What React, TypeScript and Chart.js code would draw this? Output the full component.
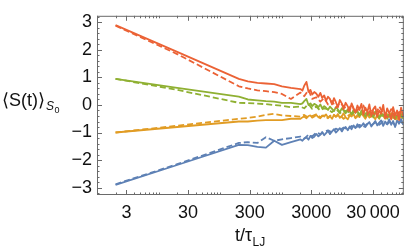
import React, { useEffect, useRef } from "react";
import { Chart, registerables } from "chart.js";

Chart.register(...registerables);

// ---------- data ----------
const T_SMOOTH = [2, 20, 200, 280, 400, 550, 750, 1000, 1400];
const T_NOISE = [2000, 2150, 2300, 2500, 2700, 2900, 3100, 3350, 3600, 3900, 4200, 4500, 4850, 5200, 5600, 6000, 6500, 7000, 7500, 8100, 8700, 9400, 10000, 10800, 11700, 12600, 13500, 14500, 15600, 16800, 18100, 19500, 21000, 22600, 24300, 26200, 28200, 30400, 32700, 35200, 37900, 40800, 44000, 47300, 51000, 55000, 59200, 63700, 68600, 73900, 79600, 85700, 92300];
const T_NOISE_DASHED = [2000, 2300, 2700, 3100, 3600, 4200, 4850, 5600, 6500, 7500, 8700, 10000, 11700, 13500, 15600, 18100, 21000, 24300, 28200, 32700, 37900, 44000, 51000, 59200, 68600, 79600, 92300];

// red
const RED_SOLID_SMOOTH = [2.9, 1.93, 0.95, 0.86, 0.8, 0.78, 0.76, 0.68, 0.62];
const RED_SOLID_NOISE = [0.58, 0.52, 0.7, 0.84, 0.48, 0.55, 0.38, 0.47, 0.42, 0.3, 0.44, 0.26, 0.35, 0.15, 0.3, 0.22, 0.02, 0.25, 0.1, -0.08, 0.18, 0.05, -0.15, 0.08, -0.05, -0.22, 0.06, -0.12, -0.28, -0.02, -0.18, 0.04, -0.35, -0.1, -0.25, 0.02, -0.4, -0.15, -0.05, -0.42, -0.2, -0.32, 0.0, -0.48, -0.12, -0.3, -0.52, -0.08, -0.38, -0.2, -0.55, -0.1, -0.4];
const RED_DASHED_SMOOTH = [2.88, 1.85, 0.68, 0.6, 0.53, 0.5, 0.47, 0.4, 0.22];
const RED_DASHED_NOISE = [0.45, 0.32, 0.55, 0.22, 0.28, 0.12, 0.25, 0.02, 0.15, -0.1, 0.08, -0.04, -0.2, 0.02, -0.28, -0.1, -0.02, -0.35, -0.15, -0.4, -0.05, -0.3, -0.45, -0.15, -0.5, -0.25, -0.35];

// green
const GREEN_SOLID_SMOOTH = [0.95, 0.62, 0.3, 0.2, 0.17, 0.14, 0.12, 0.08, 0.08];
const GREEN_SOLID_NOISE = [0.03, 0.06, 0.14, 0.22, 0.0, 0.06, -0.04, 0.04, 0.0, -0.08, 0.02, -0.12, -0.04, -0.1, -0.18, -0.06, -0.14, -0.22, -0.08, -0.16, -0.26, -0.12, -0.2, -0.3, -0.15, -0.24, -0.34, -0.18, -0.28, -0.22, -0.38, -0.2, -0.3, -0.42, -0.25, -0.35, -0.28, -0.45, -0.24, -0.38, -0.48, -0.3, -0.4, -0.28, -0.5, -0.34, -0.42, -0.3, -0.52, -0.36, -0.44, -0.32, -0.5];
const GREEN_DASHED_SMOOTH = [0.95, 0.55, 0.08, 0.07, 0.05, 0.03, 0.0, -0.03, -0.08];
const GREEN_DASHED_NOISE = [-0.06, -0.12, 0.04, -0.14, -0.06, -0.2, -0.12, -0.16, -0.26, -0.14, -0.3, -0.2, -0.24, -0.34, -0.2, -0.38, -0.28, -0.32, -0.42, -0.26, -0.45, -0.34, -0.4, -0.3, -0.5, -0.36, -0.42];

// orange
const ORANGE_SOLID_SMOOTH = [-1.0, -0.8, -0.6, -0.6, -0.57, -0.55, -0.55, -0.55, -0.5];
const ORANGE_SOLID_NOISE = [-0.5, -0.45, -0.42, -0.48, -0.4, -0.38, -0.46, -0.42, -0.36, -0.44, -0.48, -0.38, -0.42, -0.34, -0.46, -0.4, -0.5, -0.36, -0.43, -0.33, -0.47, -0.4, -0.3, -0.45, -0.52, -0.38, -0.42, -0.32, -0.48, -0.36, -0.44, -0.28, -0.4, -0.5, -0.34, -0.46, -0.3, -0.42, -0.52, -0.35, -0.45, -0.28, -0.4, -0.5, -0.33, -0.44, -0.3, -0.48, -0.36, -0.52, -0.32, -0.45, -0.38];
const ORANGE_DASHED_SMOOTH = [-1.0, -0.75, -0.5, -0.47, -0.42, -0.36, -0.32, -0.38, -0.4];
const ORANGE_DASHED_NOISE = [-0.42, -0.36, -0.46, -0.4, -0.34, -0.44, -0.38, -0.48, -0.32, -0.42, -0.36, -0.5, -0.4, -0.3, -0.46, -0.38, -0.34, -0.48, -0.42, -0.3, -0.5, -0.36, -0.44, -0.32, -0.48, -0.38, -0.42];

// blue
const BLUE_SOLID_SMOOTH = [-2.9, -2.18, -1.45, -1.46, -1.52, -1.55, -1.3, -1.45, -1.35];
const BLUE_SOLID_NOISE = [-1.25, -1.3, -1.22, -1.18, -1.26, -1.12, -1.2, -1.15, -1.05, -1.14, -1.08, -0.98, -1.1, -1.02, -0.94, -1.06, -0.96, -0.88, -1.0, -0.92, -0.84, -0.96, -0.86, -0.8, -0.92, -0.78, -0.88, -0.74, -0.84, -0.7, -0.82, -0.76, -0.66, -0.8, -0.7, -0.62, -0.78, -0.68, -0.58, -0.74, -0.64, -0.56, -0.76, -0.6, -0.7, -0.52, -0.72, -0.58, -0.8, -0.55, -0.68, -0.5, -0.72];
const BLUE_DASHED_SMOOTH = [-2.88, -2.15, -1.38, -1.35, -1.38, -1.17, -1.3, -1.25, -1.2];
const BLUE_DASHED_NOISE = [-1.15, -1.22, -1.08, -1.14, -1.0, -1.06, -0.98, -0.92, -1.0, -0.86, -0.92, -0.82, -0.88, -0.76, -0.84, -0.72, -0.8, -0.68, -0.74, -0.64, -0.72, -0.6, -0.7, -0.56, -0.74, -0.6, -0.66];

const X_TICKS = [3, 30, 300, 3000, 30000];
const X_TICK_LABELS = ["3", "30", "300", "3000", "30\u2009000"];
const Y_TICKS = [-3, -2, -1, 0, 1, 2, 3];
const Y_TICK_LABELS = ["\u22123", "\u22122", "\u22121", "0", "1", "2", "3"];

const COLORS = {
  red: "#EB6235",
  green: "#8FB032",
  orange: "#E19C24",
  blue: "#5E81B5",
};

const FONT = "'Liberation Sans', Arial, sans-serif";

function pts(ts: number[], ys: number[]) {
  return ts.map((t, i) => ({ x: t, y: ys[i] }));
}

function makeSet(color: string, smooth: number[], noise: number[], dashed: boolean) {
  const t = [...T_SMOOTH, ...(dashed ? T_NOISE_DASHED : T_NOISE)];
  return {
    data: pts(t, [...smooth, ...noise]),
    borderColor: color,
    borderWidth: 1.8,
    borderDash: dashed ? [6, 3] : [],
    borderJoinStyle: "round",
    pointRadius: 0,
    tension: 0,
    fill: false,
  };
}

const framePlugin = {
  id: "frameTicks",
  afterDatasetsDraw(chart: any) {
    const { ctx, chartArea: a, scales } = chart;
    const x = scales.x;
    const y = scales.y;
    ctx.save();
    ctx.strokeStyle = "#6a6a6a";
    ctx.lineWidth = 1;
    ctx.strokeRect(a.left + 0.5, a.top + 0.5, a.right - a.left - 1, a.bottom - a.top - 1);
    ctx.beginPath();
    for (let k = 0; k <= 5; k++) {
      for (let m = 1; m <= 9; m++) {
        const v = m * Math.pow(10, k);
        if (v < x.min || v > x.max) continue;
        const major = X_TICKS.includes(v);
        const len = major ? 5 : 2.5;
        const px = Math.round(x.getPixelForValue(v)) + 0.5;
        ctx.moveTo(px, a.bottom);
        ctx.lineTo(px, a.bottom - len);
        ctx.moveTo(px, a.top);
        ctx.lineTo(px, a.top + len);
      }
    }
    for (let i = -16; i <= 16; i++) {
      const v = i / 5;
      if (v < y.min || v > y.max) continue;
      const major = i % 5 === 0;
      const len = major ? 5 : 2.5;
      const py = Math.round(y.getPixelForValue(v)) + 0.5;
      ctx.moveTo(a.left, py);
      ctx.lineTo(a.left + len, py);
      ctx.moveTo(a.right, py);
      ctx.lineTo(a.right - len, py);
    }
    ctx.stroke();
    ctx.restore();
  },
  afterDraw(chart: any) {
    const { ctx } = chart;
    ctx.save();
    ctx.fillStyle = "#111";
    ctx.textBaseline = "alphabetic";
    ctx.textAlign = "left";
    ctx.font = `18px ${FONT}`;
    const main = "\u27E8S(t)\u27E9";
    ctx.fillText(main, 2, 106);
    const w = ctx.measureText(main).width;
    ctx.font = `italic 12px ${FONT}`;
    ctx.fillText("S", 2 + w + 1, 110);
    const ws = ctx.measureText("S").width;
    ctx.font = `9px ${FONT}`;
    ctx.fillText("0", 2 + w + 1 + ws + 0.5, 113);
    ctx.font = `18px ${FONT}`;
    const xt = "t/\u03C4";
    ctx.fillText(xt, 235, 241);
    const wx = ctx.measureText(xt).width;
    ctx.font = `12px ${FONT}`;
    ctx.fillText("LJ", 235 + wx + 0.5, 246);
    ctx.restore();
  },
};

export default function App() {
  const ref = useRef<HTMLCanvasElement>(null);
  useEffect(() => {
    document.body.style.margin = "0";
    const chart = new Chart(ref.current as HTMLCanvasElement, {
      type: "line",
      data: {
        datasets: [
          makeSet(COLORS.red, RED_SOLID_SMOOTH, RED_SOLID_NOISE, false),
          makeSet(COLORS.red, RED_DASHED_SMOOTH, RED_DASHED_NOISE, true),
          makeSet(COLORS.green, GREEN_SOLID_SMOOTH, GREEN_SOLID_NOISE, false),
          makeSet(COLORS.green, GREEN_DASHED_SMOOTH, GREEN_DASHED_NOISE, true),
          makeSet(COLORS.orange, ORANGE_SOLID_SMOOTH, ORANGE_SOLID_NOISE, false),
          makeSet(COLORS.orange, ORANGE_DASHED_SMOOTH, ORANGE_DASHED_NOISE, true),
          makeSet(COLORS.blue, BLUE_SOLID_SMOOTH, BLUE_SOLID_NOISE, false),
          makeSet(COLORS.blue, BLUE_DASHED_SMOOTH, BLUE_DASHED_NOISE, true),
        ] as any,
      },
      options: {
        animation: false,
        responsive: false,
        parsing: false as any,
        layout: { padding: { left: 0, right: 2, top: 4, bottom: 0 } },
        plugins: { legend: { display: false }, tooltip: { enabled: false } },
        scales: {
          x: {
            type: "logarithmic",
            min: 1,
            max: 95000,
            grid: { display: false, drawTicks: false },
            border: { display: false },
            afterBuildTicks: (s: any) => {
              s.ticks = X_TICKS.map((v) => ({ value: v }));
            },
            afterFit: (s: any) => {
              s.height = 54;
            },
            ticks: {
              autoSkip: false,
              maxRotation: 0,
              padding: 7,
              color: "#111",
              font: { family: FONT, size: 18 },
              callback: (_v: any, i: number) => X_TICK_LABELS[i],
            },
          },
          y: {
            type: "linear",
            min: -3.27,
            max: 3.24,
            grid: { display: false, drawTicks: false },
            border: { display: false },
            afterBuildTicks: (s: any) => {
              s.ticks = Y_TICKS.map((v) => ({ value: v }));
            },
            afterFit: (s: any) => {
              s.width = 97;
            },
            ticks: {
              padding: 5,
              color: "#111",
              font: { family: FONT, size: 18 },
              callback: (_v: any, i: number) => Y_TICK_LABELS[i],
            },
          },
        },
      } as any,
      plugins: [framePlugin],
    });
    return () => chart.destroy();
  }, []);
  return (
    <div style={{ width: 407, height: 249 }}>
      <canvas ref={ref} width={407} height={249} />
    </div>
  );
}
